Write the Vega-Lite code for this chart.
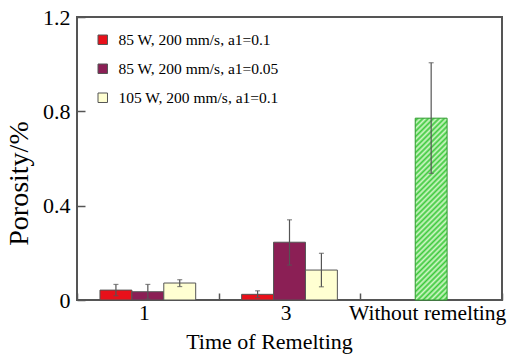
{
  "$schema": "https://vega.github.io/schema/vega-lite/v6.json",
  "width": 425,
  "height": 283,
  "autosize": "none",
  "padding": {"left": 77, "top": 17, "right": 7, "bottom": 54},
  "background": "white",
  "config": {
    "view": {"stroke": "#555", "strokeWidth": 2},
    "font": "Liberation Serif",
    "axis": {"labelFont": "Liberation Serif", "titleFont": "Liberation Serif", "labelColor": "black", "titleColor": "black", "titleFontWeight": "normal", "labelFontSize": 22, "titleFontSize": 22, "domain": false, "grid": false, "tickColor": "#555", "tickWidth": 1.5}
  },
  "data": {
    "values": [
      {"cat": "1", "series": "85 W, 200 mm/s, a1=0.1", "value": 0.042, "lo": 0.018, "hi": 0.066},
      {"cat": "1", "series": "85 W, 200 mm/s, a1=0.05", "value": 0.035, "lo": 0.004, "hi": 0.066},
      {"cat": "1", "series": "105 W, 200 mm/s, a1=0.1", "value": 0.072, "lo": 0.057, "hi": 0.086},
      {"cat": "3", "series": "85 W, 200 mm/s, a1=0.1", "value": 0.024, "lo": 0.010, "hi": 0.039},
      {"cat": "3", "series": "85 W, 200 mm/s, a1=0.05", "value": 0.245, "lo": 0.148, "hi": 0.340},
      {"cat": "3", "series": "105 W, 200 mm/s, a1=0.1", "value": 0.127, "lo": 0.056, "hi": 0.198},
      {"cat": "Without remelting", "series": "Without", "value": 0.771, "lo": 0.537, "hi": 1.006}
    ]
  },
  "encoding": {
    "x": {
      "field": "cat", "type": "nominal",
      "scale": {"domain": ["1", "3", "Without remelting"], "paddingInner": 0, "paddingOuter": 0},
      "axis": {"title": "Time of Remelting", "labelAngle": 0, "labelFontSize": 21.5, "labelOffset": -4, "labelLimit": 0, "labelOverlap": false, "tickBand": "extent", "tickSize": -7, "labelPadding": 9, "titleX": 192, "titleY": 48, "titleBaseline": "alphabetic", "titleFontSize": 22}
    }
  },
  "layer": [
    {
      "transform": [{"filter": "datum.series != 'Without'"}],
      "mark": {"type": "bar", "stroke": "#555", "strokeWidth": 1},
      "encoding": {
        "xOffset": {"field": "series", "type": "nominal", "scale": {"domain": ["85 W, 200 mm/s, a1=0.1", "85 W, 200 mm/s, a1=0.05", "105 W, 200 mm/s, a1=0.1"], "paddingInner": 0, "paddingOuter": 0.72}},
        "y": {
          "field": "value", "type": "quantitative",
          "scale": {"domain": [0, 1.2], "nice": false},
          "axis": {"title": "Porosity/%", "values": [0, 0.4, 0.8, 1.2], "format": ".1~f", "tickSize": -8, "labelPadding": 15, "titleX": -50, "titleY": 166, "titleBaseline": "alphabetic", "titleFontSize": 28}
        },
        "color": {
          "field": "series", "type": "nominal",
          "scale": {"domain": ["85 W, 200 mm/s, a1=0.1", "85 W, 200 mm/s, a1=0.05", "105 W, 200 mm/s, a1=0.1"], "range": ["#e8101a", "#8b1f55", "#ffffd2"]},
          "legend": {"title": null, "orient": "none", "legendX": 18, "legendY": 15, "labelFont": "Liberation Serif", "labelFontSize": 15.5, "labelLimit": 0, "labelColor": "black", "symbolType": "square", "symbolSize": 90, "symbolStrokeColor": "#555", "symbolStrokeWidth": 1, "rowPadding": 12, "labelOffset": 8}
        }
      }
    },
    {
      "transform": [{"filter": "datum.series == 'Without'"}],
      "mark": {
        "type": "bar", "width": {"band": 0.225}, "stroke": "#2f9a2f", "strokeWidth": 1,
        "fill": {
          "gradient": "linear", "x1": 0, "y1": 0, "x2": 0.2, "y2": 1.14,
          "stops": [
            {"offset": 0, "color": "#d2f7c8"}, {"offset": 0.0125, "color": "#3cc93c"}, {"offset": 0.025, "color": "#d2f7c8"}, {"offset": 0.0375, "color": "#3cc93c"},
            {"offset": 0.05, "color": "#d2f7c8"}, {"offset": 0.0625, "color": "#3cc93c"}, {"offset": 0.075, "color": "#d2f7c8"}, {"offset": 0.0875, "color": "#3cc93c"},
            {"offset": 0.1, "color": "#d2f7c8"}, {"offset": 0.1125, "color": "#3cc93c"}, {"offset": 0.125, "color": "#d2f7c8"}, {"offset": 0.1375, "color": "#3cc93c"},
            {"offset": 0.15, "color": "#d2f7c8"}, {"offset": 0.1625, "color": "#3cc93c"}, {"offset": 0.175, "color": "#d2f7c8"}, {"offset": 0.1875, "color": "#3cc93c"},
            {"offset": 0.2, "color": "#d2f7c8"}, {"offset": 0.2125, "color": "#3cc93c"}, {"offset": 0.225, "color": "#d2f7c8"}, {"offset": 0.2375, "color": "#3cc93c"},
            {"offset": 0.25, "color": "#d2f7c8"}, {"offset": 0.2625, "color": "#3cc93c"}, {"offset": 0.275, "color": "#d2f7c8"}, {"offset": 0.2875, "color": "#3cc93c"},
            {"offset": 0.3, "color": "#d2f7c8"}, {"offset": 0.3125, "color": "#3cc93c"}, {"offset": 0.325, "color": "#d2f7c8"}, {"offset": 0.3375, "color": "#3cc93c"},
            {"offset": 0.35, "color": "#d2f7c8"}, {"offset": 0.3625, "color": "#3cc93c"}, {"offset": 0.375, "color": "#d2f7c8"}, {"offset": 0.3875, "color": "#3cc93c"},
            {"offset": 0.4, "color": "#d2f7c8"}, {"offset": 0.4125, "color": "#3cc93c"}, {"offset": 0.425, "color": "#d2f7c8"}, {"offset": 0.4375, "color": "#3cc93c"},
            {"offset": 0.45, "color": "#d2f7c8"}, {"offset": 0.4625, "color": "#3cc93c"}, {"offset": 0.475, "color": "#d2f7c8"}, {"offset": 0.4875, "color": "#3cc93c"},
            {"offset": 0.5, "color": "#d2f7c8"}, {"offset": 0.5125, "color": "#3cc93c"}, {"offset": 0.525, "color": "#d2f7c8"}, {"offset": 0.5375, "color": "#3cc93c"},
            {"offset": 0.55, "color": "#d2f7c8"}, {"offset": 0.5625, "color": "#3cc93c"}, {"offset": 0.575, "color": "#d2f7c8"}, {"offset": 0.5875, "color": "#3cc93c"},
            {"offset": 0.6, "color": "#d2f7c8"}, {"offset": 0.6125, "color": "#3cc93c"}, {"offset": 0.625, "color": "#d2f7c8"}, {"offset": 0.6375, "color": "#3cc93c"},
            {"offset": 0.65, "color": "#d2f7c8"}, {"offset": 0.6625, "color": "#3cc93c"}, {"offset": 0.675, "color": "#d2f7c8"}, {"offset": 0.6875, "color": "#3cc93c"},
            {"offset": 0.7, "color": "#d2f7c8"}, {"offset": 0.7125, "color": "#3cc93c"}, {"offset": 0.725, "color": "#d2f7c8"}, {"offset": 0.7375, "color": "#3cc93c"},
            {"offset": 0.75, "color": "#d2f7c8"}, {"offset": 0.7625, "color": "#3cc93c"}, {"offset": 0.775, "color": "#d2f7c8"}, {"offset": 0.7875, "color": "#3cc93c"},
            {"offset": 0.8, "color": "#d2f7c8"}, {"offset": 0.8125, "color": "#3cc93c"}, {"offset": 0.825, "color": "#d2f7c8"}, {"offset": 0.8375, "color": "#3cc93c"},
            {"offset": 0.85, "color": "#d2f7c8"}, {"offset": 0.8625, "color": "#3cc93c"}, {"offset": 0.875, "color": "#d2f7c8"}, {"offset": 0.8875, "color": "#3cc93c"},
            {"offset": 0.9, "color": "#d2f7c8"}, {"offset": 0.9125, "color": "#3cc93c"}, {"offset": 0.925, "color": "#d2f7c8"}, {"offset": 0.9375, "color": "#3cc93c"},
            {"offset": 0.95, "color": "#d2f7c8"}, {"offset": 0.9625, "color": "#3cc93c"}, {"offset": 0.975, "color": "#d2f7c8"}, {"offset": 0.9875, "color": "#3cc93c"},
            {"offset": 1, "color": "#d2f7c8"}
          ]
        }
      },
      "encoding": {
        "y": {"field": "value", "type": "quantitative"}
      }
    },
    {
      "transform": [{"filter": "datum.series != 'Without'"}],
      "mark": {"type": "rule", "color": "#555", "strokeWidth": 1.2},
      "encoding": {
        "xOffset": {"field": "series", "type": "nominal"},
        "y": {"field": "lo", "type": "quantitative"},
        "y2": {"field": "hi"}
      }
    },
    {
      "transform": [{"filter": "datum.series != 'Without'"}],
      "mark": {"type": "tick", "color": "#555", "orient": "horizontal", "size": 5, "thickness": 1.2},
      "encoding": {
        "xOffset": {"field": "series", "type": "nominal"},
        "y": {"field": "lo", "type": "quantitative"}
      }
    },
    {
      "transform": [{"filter": "datum.series != 'Without'"}],
      "mark": {"type": "tick", "color": "#555", "orient": "horizontal", "size": 5, "thickness": 1.2},
      "encoding": {
        "xOffset": {"field": "series", "type": "nominal"},
        "y": {"field": "hi", "type": "quantitative"}
      }
    },
    {
      "transform": [{"filter": "datum.series == 'Without'"}],
      "mark": {"type": "rule", "color": "#555", "strokeWidth": 1.2},
      "encoding": {
        "y": {"field": "lo", "type": "quantitative"},
        "y2": {"field": "hi"}
      }
    },
    {
      "transform": [{"filter": "datum.series == 'Without'"}],
      "mark": {"type": "tick", "color": "#555", "orient": "horizontal", "size": 5, "thickness": 1.2},
      "encoding": {
        "y": {"field": "lo", "type": "quantitative"}
      }
    },
    {
      "transform": [{"filter": "datum.series == 'Without'"}],
      "mark": {"type": "tick", "color": "#555", "orient": "horizontal", "size": 5, "thickness": 1.2},
      "encoding": {
        "y": {"field": "hi", "type": "quantitative"}
      }
    }
  ]
}
